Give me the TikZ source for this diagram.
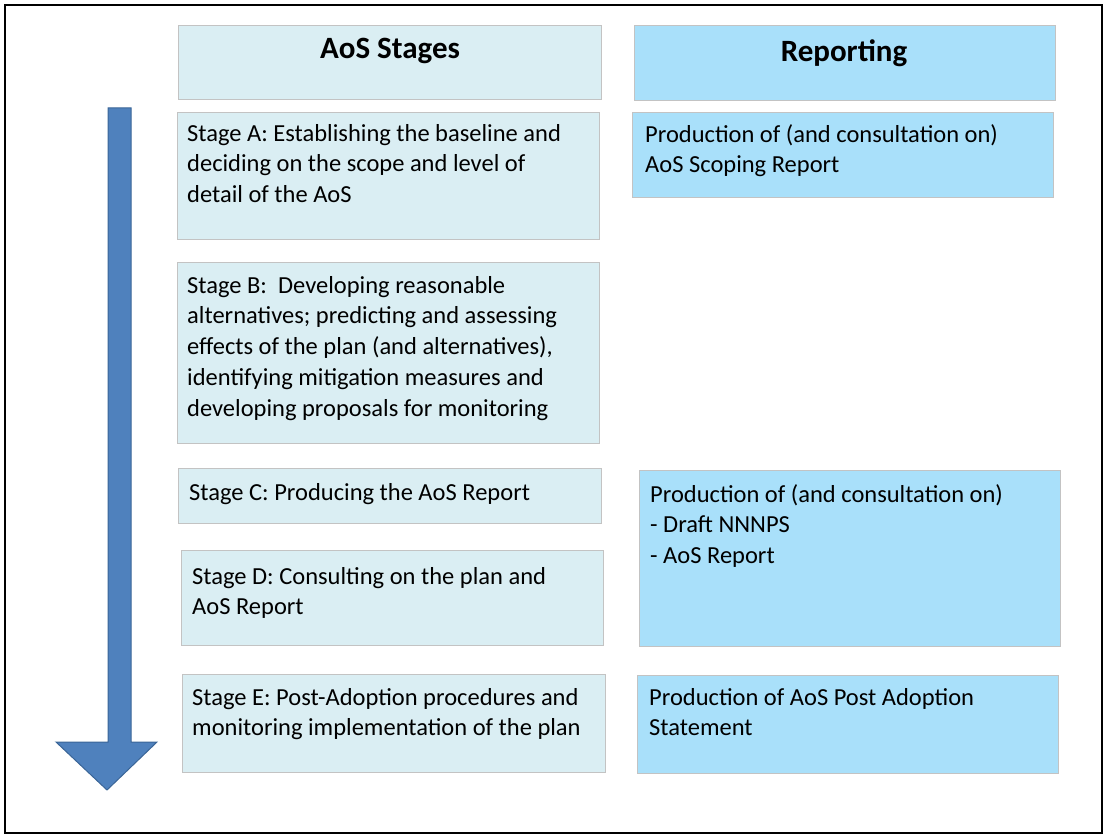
\documentclass[tikz,border=0pt]{standalone}
\usepackage{fontspec}
\setmainfont{Carlito}
\usetikzlibrary{positioning,calc}

\definecolor{stagefill}{HTML}{DAEEF3}
\definecolor{reportfill}{HTML}{A9E0FA}
\definecolor{boxline}{HTML}{C3C3C3}
\definecolor{arrowfill}{HTML}{4F81BD}
\definecolor{arrowline}{HTML}{3A6597}

\begin{document}
\begin{tikzpicture}[x=1pt, y=-1pt,
    box/.style={draw=boxline, line width=1.3pt, anchor=north west, inner sep=0pt},
    stagebox/.style={box, fill=stagefill},
    reportbox/.style={box, fill=reportfill},
    headtext/.style={inner sep=0pt, font=\fontsize{31}{37}\selectfont\bfseries},
    boxtext/.style={anchor=north west, inner sep=0pt, align=left, font=\fontsize{24.5}{30.7}\selectfont}]

    % Outer frame
    \useasboundingbox (0,0) rectangle (1105,837);
    \draw[line width=2.2pt] (5,5) rectangle (1102,833);

    % Big arrow on the left
    \filldraw[fill=arrowfill, draw=arrowline, line width=1pt]
        (108,108) -- (131,108) -- (131,742) -- (157,742) -- (107,790)
        -- (56,742) -- (108,742) -- cycle;

    % Column headers
    \node[stagebox, minimum width=423pt, minimum height=74pt] (stagehead) at (178,25) {};
    \node[reportbox, minimum width=421pt, minimum height=75pt] (reporthead) at (634,25) {};
    \node[headtext] (stagetitle) at (390,51) {AoS Stages};
    \node[headtext] (reporttitle) at (844,53) {Reporting};

    % Stage boxes
    \node[stagebox, minimum width=422pt, minimum height=127pt] (stageA) at (177,112) {};
    \node[stagebox, minimum width=422pt, minimum height=181pt] (stageB) at (177,262) {};
    \node[stagebox, minimum width=423pt, minimum height=55pt] (stageC) at (178,468) {};
    \node[stagebox, minimum width=422pt, minimum height=95pt] (stageD) at (181,550) {};
    \node[stagebox, minimum width=423pt, minimum height=98pt] (stageE) at (182,674) {};

    % Reporting boxes
    \node[reportbox, minimum width=421pt, minimum height=85pt] (reportA) at (632,112) {};
    \node[reportbox, minimum width=421pt, minimum height=176pt] (reportCD) at (639,470) {};
    \node[reportbox, minimum width=421pt, minimum height=98pt] (reportE) at (637,675) {};

    % Texts of the stages
    \node[boxtext] (textA) at (187,124) {Stage A: Establishing the baseline and\\deciding on the scope and level of\\detail of the AoS};
    \node[boxtext] (textB) at (187,276) {Stage B:\ \ Developing reasonable\\alternatives; predicting and assessing\\effects of the plan (and alternatives),\\identifying mitigation measures and\\developing proposals for monitoring};
    \node[boxtext] (textC) at (189,483) {Stage C: Producing the AoS Report};
    \node[boxtext] (textD) at (192,567) {Stage D: Consulting on the plan and\\AoS Report};
    \node[boxtext] (textE) at (192,688) {Stage E: Post-Adoption procedures and\\monitoring implementation of the plan};

    % Texts of the reports
    \node[boxtext] (textRA) at (645,124) {Production of (and consultation on)\\AoS Scoping Report};
    \node[boxtext] (textRCD) at (650,484) {Production of (and consultation on)\\- Draft NNNPS\\- AoS Report};
    \node[boxtext] (textRE) at (649,688) {Production of AoS Post Adoption\\Statement};
\end{tikzpicture}
\end{document}
